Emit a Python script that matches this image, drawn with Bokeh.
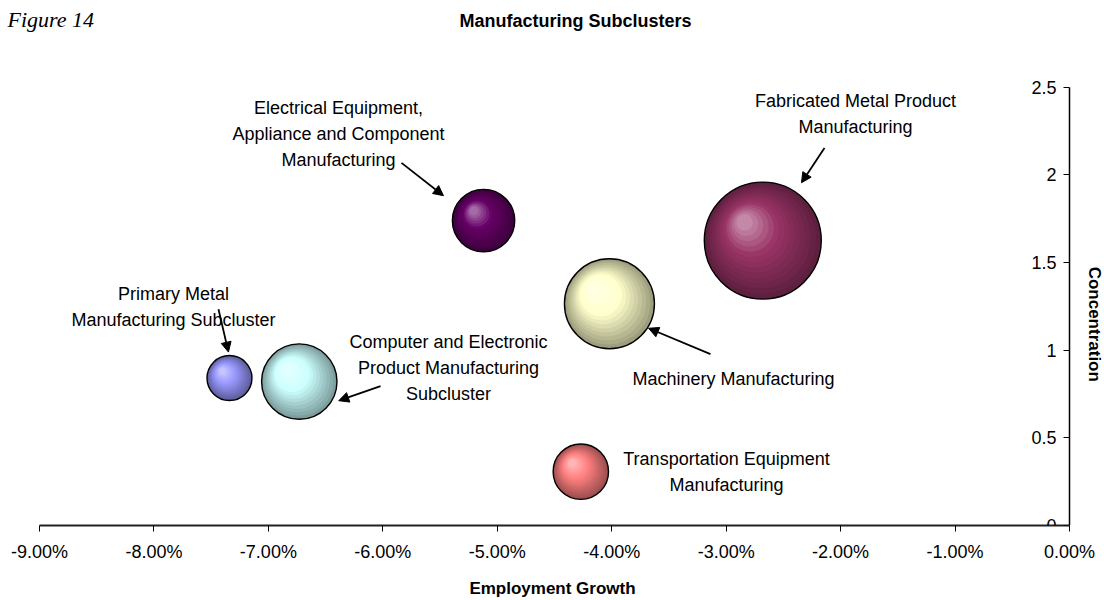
import math
from bokeh.plotting import figure
from bokeh.models import (ColumnDataSource, Range1d, LinearAxis, FixedTicker,
                          NumeralTickFormatter, Arrow, NormalHead)
from bokeh.core.properties import value
from bokeh.embed import file_html
from bokeh.resources import INLINE

# ---------------- data ----------------
subclusters = [
    "Primary Metal Manufacturing Subcluster",
    "Computer and Electronic Product Manufacturing Subcluster",
    "Electrical Equipment, Appliance and Component Manufacturing",
    "Machinery Manufacturing",
    "Fabricated Metal Product Manufacturing",
    "Transportation Equipment Manufacturing",
]
employment_growth = [-0.0734, -0.0673, -0.0512, -0.0402, -0.0268, -0.0427]
concentration = [0.841, 0.821, 1.739, 1.265, 1.625, 0.307]
bubble_size = [506, 1421, 973, 2025, 3422, 767]
bubble_colors = ["#9999FF", "#CCFFFF", "#660066", "#FFFFCC", "#993366", "#FF8080"]

x_ticks = [-0.09, -0.08, -0.07, -0.06, -0.05, -0.04, -0.03, -0.02, -0.01, 0.0]
y_ticks = [0, 0.5, 1, 1.5, 2, 2.5]
y_tick_labels = ["0", "0.5", "1", "1.5", "2", "2.5"]

chart_title = "Manufacturing Subclusters"
figure_caption = "Figure 14"
x_title = "Employment Growth"
y_title = "Concentration"

# annotation text (lines) and placement (data units)
label_lines = [
    ["Primary Metal", "Manufacturing Subcluster"],
    ["Computer and Electronic", "Product Manufacturing", "Subcluster"],
    ["Electrical Equipment,", "Appliance and Component", "Manufacturing"],
    ["Machinery Manufacturing"],
    ["Fabricated Metal Product", "Manufacturing"],
    ["Transportation Equipment", "Manufacturing"],
]
label_x = [-0.07829, -0.05426, -0.06387, -0.02936, -0.01870, -0.02997]
label_y = [1.318, 1.045, 2.381, 0.835, 2.420, 0.381]
arrow_x0 = [-0.07436, -0.06020, -0.05837, -0.03137, -0.02141]
arrow_y0 = [1.233, 0.795, 2.068, 0.977, 2.153]
arrow_x1 = [-0.07349, -0.06385, -0.05470, -0.03678, -0.02342]
arrow_y1 = [0.989, 0.712, 1.881, 1.125, 1.955]

# ---------------- layout ----------------
W, H = 1104, 600
AXIS_LEFT_PX = 39          # where -9% sits
AXIS_RIGHT_PX = 1069       # where 0% sits
AXIS_BOTTOM_PX = 527       # where concentration 0 sits
PX_PER_X = (AXIS_RIGHT_PX - AXIS_LEFT_PX) / (x_ticks[-1] - x_ticks[0])
PX_PER_Y = 176.0
X_START = x_ticks[0] - AXIS_LEFT_PX / PX_PER_X
X_END = X_START + W / PX_PER_X
Y_START = 0.0
Y_END = AXIS_BOTTOM_PX / PX_PER_Y
FONT = "Liberation Sans"
LINE_GAP_PX = 26

def px_x(px):
    return X_START + px / PX_PER_X

def px_y(py):
    return Y_END - py / PX_PER_Y

p = figure(width=W, height=H, x_range=Range1d(X_START, X_END), y_range=Range1d(Y_START, Y_END),
           output_backend="svg", toolbar_location=None, y_axis_location=None,
           min_border_left=0, min_border_right=0, min_border_top=0,
           min_border_bottom=H - AXIS_BOTTOM_PX)
p.outline_line_color = None
p.grid.visible = False
p.background_fill_color = "white"
p.border_fill_color = "white"

# x axis
xa = p.xaxis[0]
xa.ticker = FixedTicker(ticks=x_ticks)
xa.formatter = NumeralTickFormatter(format="0.00%")
xa.bounds = (x_ticks[0], x_ticks[-1])
xa.axis_label = x_title
xa.axis_label_text_font = FONT
xa.axis_label_text_font_size = "17px"
xa.axis_label_text_font_style = "bold"
xa.axis_label_text_color = "black"
xa.axis_label_standoff = 14
xa.major_label_text_font = FONT
xa.major_label_text_font_size = "18px"
xa.major_label_text_color = "black"
xa.major_label_standoff = 10
xa.major_tick_in = 0
xa.major_tick_out = 6
xa.minor_tick_out = 0
xa.minor_tick_in = 0
xa.axis_line_color = "#222222"
xa.axis_line_width = 1.8
xa.major_tick_line_color = "black"

# y axis drawn at x = 0 with labels to its left
ya = LinearAxis(fixed_location=0, bounds=(y_ticks[0], y_ticks[-1]),
                ticker=FixedTicker(ticks=y_ticks),
                major_label_overrides={t: s for t, s in zip(y_ticks, y_tick_labels)})
ya.major_label_text_font = FONT
ya.major_label_text_font_size = "18px"
ya.major_label_text_color = "black"
ya.major_label_standoff = 7
ya.major_tick_in = 0
ya.major_tick_out = 6
ya.minor_tick_out = 0
ya.minor_tick_in = 0
ya.axis_line_color = "black"
ya.axis_line_width = 1.5
p.add_layout(ya, "left")

# ---------------- bubbles (shaded) ----------------
def hex2rgb(h):
    h = h.lstrip("#")
    return [int(h[i:i + 2], 16) for i in (0, 2, 4)]

def rgb2hex(c):
    return "#%02x%02x%02x" % tuple(max(0, min(255, int(round(v)))) for v in c)

def mix(a, b, f):
    return [x + (y - x) * f for x, y in zip(a, b)]

def shade(hexc, t):
    base = hex2rgb(hexc)
    dark = [v * 0.62 for v in base]
    light = [v + 0.42 * (255 - v) for v in base]
    if t < 0.6:
        return rgb2hex(mix(dark, base, t / 0.6))
    return rgb2hex(mix(base, light, (t - 0.6) / 0.4))

MAX_R_PX = 58.5
smax = max(bubble_size)
radii = [MAX_R_PX * math.sqrt(s / smax) for s in bubble_size]

N_LAYERS = 14
for k in range(N_LAYERS):
    t = k / (N_LAYERS - 1)
    src = ColumnDataSource(dict(
        x=[gx - 0.31 * t * r / PX_PER_X for gx, r in zip(employment_growth, radii)],
        y=[cy + 0.31 * t * r / PX_PER_Y for cy, r in zip(concentration, radii)],
        size=[2 * r * (1 - 0.86 * t) for r in radii],
        color=[shade(c, t) for c in bubble_colors],
    ))
    p.scatter(x="x", y="y", size="size", fill_color="color", line_color=None, source=src)

p.scatter(x=employment_growth, y=concentration, size=[2 * r for r in radii],
          fill_color=None, line_color="black", line_width=1.4)

# ---------------- labels & arrows ----------------
tx, ty, tt = [], [], []
for lines, lx, ly in zip(label_lines, label_x, label_y):
    for i, line in enumerate(lines):
        tx.append(lx)
        ty.append(ly - i * LINE_GAP_PX / PX_PER_Y)
        tt.append(line)
p.text(x="x", y="y", text="t", source=ColumnDataSource(dict(x=tx, y=ty, t=tt)),
       text_font=value(FONT), text_font_size=value("18px"), text_color="black",
       text_align="center", text_baseline="middle")

arrow_src = ColumnDataSource(dict(x0=arrow_x0, y0=arrow_y0, x1=arrow_x1, y1=arrow_y1))
p.add_layout(Arrow(x_start="x0", y_start="y0", x_end="x1", y_end="y1", source=arrow_src,
                   line_color="black", line_width=1.8,
                   end=NormalHead(size=10, fill_color="black", line_color="black", line_width=1)))

# chart title
p.text(x=[px_x(575)], y=[px_y(21)], text=[chart_title],
       text_font=value(FONT), text_font_size=value("18px"), text_font_style="bold",
       text_color="black", text_align="center", text_baseline="middle")

# figure caption, top-left
p.text(x=[px_x(7)], y=[px_y(19)], text=[figure_caption],
       text_font=value("Liberation Serif"), text_font_size=value("22px"),
       text_font_style="italic", text_color="black",
       text_align="left", text_baseline="alphabetic")

# y axis title (reads top to bottom)
p.text(x=[px_x(1094)], y=[px_y(325)], text=[y_title], angle=-math.pi / 2,
       text_font=value(FONT), text_font_size=value("17px"), text_font_style="bold",
       text_color="black", text_align="center", text_baseline="middle")

open("out.html", "w").write(file_html(p, INLINE))
